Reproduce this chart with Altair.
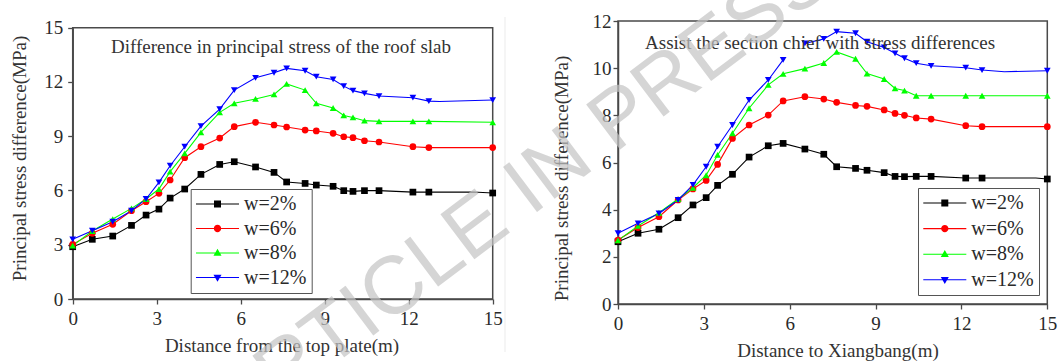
import altair as alt
import pandas as pd

# ---------------- data ----------------
SERIES = ["w=2%", "w=6%", "w=8%", "w=12%"]
COLORS = ["#000000", "#ff0000", "#00ff00", "#0000ff"]
SHAPES = ["square", "circle", "triangle-up", "triangle-down"]

X_POS = [0, 0.7, 1.43, 2.1, 2.62, 3.08, 3.48, 4.0, 4.58, 5.25, 5.77, 6.53,
         7.19, 7.64, 8.3, 8.7, 9.3, 9.68, 10.01, 10.42, 10.94, 12.15, 12.72, 15]

# left panel: roof slab
L_W2 = [2.89, 3.3, 3.48, 4.07, 4.64, 4.97, 5.58, 6.08, 6.89, 7.44, 7.59, 7.3,
        7.0, 6.47, 6.39, 6.3, 6.23, 5.99, 5.95, 5.99, 5.99, 5.91, 5.91, 5.86]
L_W6 = [3.02, 3.63, 4.13, 4.88, 5.38, 5.84, 6.58, 7.81, 8.42, 8.9, 9.53, 9.77,
        9.62, 9.51, 9.34, 9.29, 9.16, 8.97, 8.92, 8.75, 8.68, 8.42, 8.37, 8.37]
L_W8 = [2.95, 3.76, 4.42, 5.01, 5.53, 6.08, 7.04, 8.05, 9.21, 10.32, 10.82, 11.06,
        11.31, 11.89, 11.55, 10.82, 10.56, 10.15, 10.04, 9.86, 9.82, 9.82, 9.82, 9.77]
L_W12 = [3.3, 3.78, 4.27, 4.88, 5.53, 6.45, 7.37, 8.42, 9.56, 10.5, 11.55, 12.23,
         12.51, 12.75, 12.62, 12.29, 12.14, 11.77, 11.52, 11.37, 11.22, 11.13, 10.94, 11.0]
# unmarked bends of the lines
L_EXTRA_SERIES = ["w=2%", "w=12%"]
L_EXTRA_X = [14.3, 13.1]
L_EXTRA_Y = [5.92, 10.92]

# right panel: section chief
R_W2 = [2.64, 3.0, 3.17, 3.66, 4.2, 4.51, 5.03, 5.5, 6.23, 6.71, 6.81, 6.57,
        6.35, 5.82, 5.75, 5.67, 5.57, 5.41, 5.4, 5.41, 5.41, 5.34, 5.34, 5.3]
R_W6 = [2.71, 3.24, 3.7, 4.41, 4.88, 5.24, 5.92, 7.02, 7.59, 8.01, 8.61, 8.79,
        8.69, 8.55, 8.42, 8.38, 8.23, 8.08, 8.0, 7.89, 7.84, 7.56, 7.52, 7.52]
R_W8 = [2.7, 3.31, 3.87, 4.45, 4.93, 5.46, 6.32, 7.24, 8.3, 9.29, 9.76, 9.98,
        10.22, 10.69, 10.4, 9.77, 9.54, 9.14, 9.05, 8.83, 8.83, 8.83, 8.83, 8.83]
R_W12 = [3.0, 3.42, 3.84, 4.41, 5.05, 5.82, 6.67, 7.59, 8.65, 9.5, 10.35, 11.05,
         11.24, 11.55, 11.48, 11.12, 10.88, 10.63, 10.42, 10.21, 10.1, 10.02, 9.92, 9.89]
R_W12_BREAK_AFTER = 10          # the blue line is broken after this point
R_EXTRA_SERIES = ["w=2%", "w=12%"]
R_EXTRA_X = [14.6, 13.5]
R_EXTRA_Y = [5.34, 9.85]

L_XDOM, L_YDOM = [0, 15], [0, 15]
R_XDOM, R_YDOM = [0, 15], [0, 12]
L_XTICKS = [0, 3, 6, 9, 12, 15]
L_YTICKS = [0, 3, 6, 9, 12, 15]
R_XTICKS = [0, 3, 6, 9, 12, 15]
R_YTICKS = [0, 2, 4, 6, 8, 10, 12]

L_TITLE = "Difference in principal stress of the roof slab"
R_TITLE = "Assist the section chief with stress differences"
L_XLABEL = "Distance from the top plate(m)"
R_XLABEL = "Distance to Xiangbang(m)"
YLABEL = "Principal stress difference(MPa)"
WATERMARK = "ARTICLE IN PRESS"

# ---------------- layout / style ----------------
W, H = 1062, 361
SERIF = "Liberation Serif"
AXC = "#4a4a4a"
TXT = "#2a2a2a"

# legend symbols: a short line with the marker in the middle (filled paths)
LINE = "M-6.15,-0.16H6.15V0.16H-6.15Z"
LEG_PATHS = [
    LINE + "M-1,-1H1V1H-1Z",
    LINE + "M-1.05,0A1.05,1.05,0,1,1,1.05,0A1.05,1.05,0,1,1,-1.05,0Z",
    LINE + "M0,-1.2L1.15,0.8H-1.15Z",
    LINE + "M0,1.2L-1.15,-0.8H1.15Z",
]
# per-entry legend colour, built from SERIES / COLORS
LEG_FILL_EXPR = " : ".join(
    f"datum.value === '{s}' ? '{c}'" for s, c in zip(SERIES, COLORS)
) + " : 'black'"


def build_df(cols, extra_s, extra_x, extra_y, break_series=None, break_after=None):
    rows = []
    for s, ys in zip(SERIES, cols):
        for i, (x, y) in enumerate(zip(X_POS, ys)):
            seg = 0
            if s == break_series and i > break_after:
                seg = 1
            rows.append({"x": x, "y": y, "series": s, "seg": seg, "marked": True})
    for s, x, y in zip(extra_s, extra_x, extra_y):
        seg = 1 if s == break_series else 0
        rows.append({"x": x, "y": y, "series": s, "seg": seg, "marked": False})
    return pd.DataFrame(rows)


left_df = build_df([L_W2, L_W6, L_W8, L_W12], L_EXTRA_SERIES, L_EXTRA_X, L_EXTRA_Y)
right_df = build_df([R_W2, R_W6, R_W8, R_W12], R_EXTRA_SERIES, R_EXTRA_X, R_EXTRA_Y,
                    "w=12%", R_W12_BREAK_AFTER)


def panel(df, xdom, ydom, xrange, yrange, xticks, yticks, xlabel, title,
          title_xy, xaxis_extra, yaxis_extra, leg_field, leg_xy, row_pad):
    xs = alt.Scale(domain=xdom, range=xrange, nice=False, zero=False)
    ys = alt.Scale(domain=ydom, range=yrange, nice=False, zero=False)
    cscale = alt.Scale(domain=SERIES, range=COLORS)

    frame_df = pd.DataFrame({"x0": [xdom[0]], "x1": [xdom[1]],
                             "y0": [ydom[0]], "y1": [ydom[1]]})
    x_axis = alt.Axis(values=xticks, orient="bottom", title=xlabel, format="d",
                      grid=False, labelFlush=False, labelOverlap=False,
                      labelBaseline="middle", titleBaseline="middle", **xaxis_extra)
    y_axis = alt.Axis(values=yticks, orient="left", title=YLABEL, format="d",
                      grid=False, labelFlush=False, labelOverlap=False,
                      titleBaseline="middle", **yaxis_extra)
    frame = alt.Chart(frame_df).mark_rect(
        fillOpacity=0, stroke=AXC, strokeWidth=1.5
    ).encode(
        x=alt.X("x0:Q", scale=xs, axis=x_axis),
        x2="x1:Q",
        y=alt.Y("y0:Q", scale=ys, axis=y_axis),
        y2="y1:Q",
    )
    lines = alt.Chart(df).mark_line(strokeWidth=1.1).encode(
        x=alt.X("x:Q", scale=xs, axis=None),
        y=alt.Y("y:Q", scale=ys, axis=None),
        color=alt.Color("series:N", scale=cscale, legend=None),
        detail="seg:N",
    )
    points = alt.Chart(df).transform_filter("datum.marked").mark_point(
        filled=True, size=45, opacity=1
    ).encode(
        x=alt.X("x:Q", scale=xs, axis=None),
        y=alt.Y("y:Q", scale=ys, axis=None),
        color=alt.Color("series:N", scale=cscale, legend=None),
        shape=alt.Shape("series:N", scale=alt.Scale(domain=SERIES, range=SHAPES), legend=None),
    )
    leg = alt.Legend(orient="none", legendX=leg_xy[0], legendY=leg_xy[1], title=None,
                     strokeColor="#555555", fillColor="white", padding=5,
                     symbolSize=49, symbolStrokeWidth=0, symbolOpacity=1,
                     symbolFillColor=alt.ExprRef(LEG_FILL_EXPR),
                     symbolOffset=11.8, labelOffset=16.5, rowPadding=row_pad,
                     labelFont=SERIF, labelFontSize=20, labelColor=TXT)
    leg_df = pd.DataFrame({leg_field: SERIES})
    legend_layer = alt.Chart(leg_df).mark_point(filled=True, opacity=0).encode(
        color=alt.Color(f"{leg_field}:N", sort=SERIES, scale=alt.Scale(range=COLORS), legend=None),
        shape=alt.Shape(f"{leg_field}:N", sort=SERIES, scale=alt.Scale(range=LEG_PATHS), legend=leg),
    )
    tdf = pd.DataFrame({"x": [title_xy[0]], "y": [title_xy[1]], "t": [title]})
    title_layer = alt.Chart(tdf).mark_text(
        font=SERIF, fontSize=19, color="#333333", align="center", baseline="middle"
    ).encode(
        x=alt.X("x:Q", scale=xs, axis=None),
        y=alt.Y("y:Q", scale=ys, axis=None),
        text="t:N",
    )
    return [frame, lines, points, title_layer, legend_layer]


left_layers = panel(
    left_df, L_XDOM, L_YDOM, [72.7, 492.7], [299, 27.7], L_XTICKS, L_YTICKS,
    L_XLABEL, L_TITLE, (7.44, 13.92),
    dict(offset=-(H - 299), titleX=281.5, titleY=46, labelPadding=14.5),
    dict(offset=-72.7, titleX=-53.2, titleY=158, labelPadding=5),
    "legL", (190.7, 189), 4.5,
)
right_layers = panel(
    right_df, R_XDOM, R_YDOM, [618, 1047.3], [304, 21], R_XTICKS, R_YTICKS,
    R_XLABEL, R_TITLE, (7.06, 11.06),
    dict(offset=-(H - 304), titleX=837.5, titleY=46, labelPadding=14.5),
    dict(offset=-618, titleX=-56.3, titleY=178, labelPadding=2),
    "legR", (918, 188), 5.6,
)

sep = alt.Chart(pd.DataFrame({"a": [0]})).mark_rule(color="#ebebeb", strokeWidth=1).encode(
    x=alt.value(505), y=alt.value(17), y2=alt.value(352)
)
wm = alt.Chart(pd.DataFrame({"t": [WATERMARK]})).mark_text(
    font="Liberation Sans", fontSize=82, angle=323, color="#c4c4c4", opacity=0.7,
    align="center", baseline="middle"
).encode(x=alt.value(522), y=alt.value(192), text="t:N")

chart = alt.layer(sep, *left_layers, *right_layers, wm).resolve_scale(
    x="independent", y="independent", color="independent", shape="independent"
).resolve_legend(
    color="independent", shape="independent"
).properties(
    width=W, height=H, autosize=alt.AutoSizeParams(type="none"), padding=0,
    background="white"
).configure_view(stroke=None).configure_axis(
    labelFont=SERIF, labelFontSize=19, labelColor=TXT,
    titleFont=SERIF, titleFontSize=19, titleColor="#333333", titleFontWeight="normal",
    domainColor=AXC, domainWidth=1.5, tickColor=AXC, tickWidth=1.3, tickSize=5,
).configure_legend(
    labelFont=SERIF, labelFontSize=20, labelColor=TXT,
)

chart.save("out.html", embed_options={"renderer": "svg", "actions": False})
